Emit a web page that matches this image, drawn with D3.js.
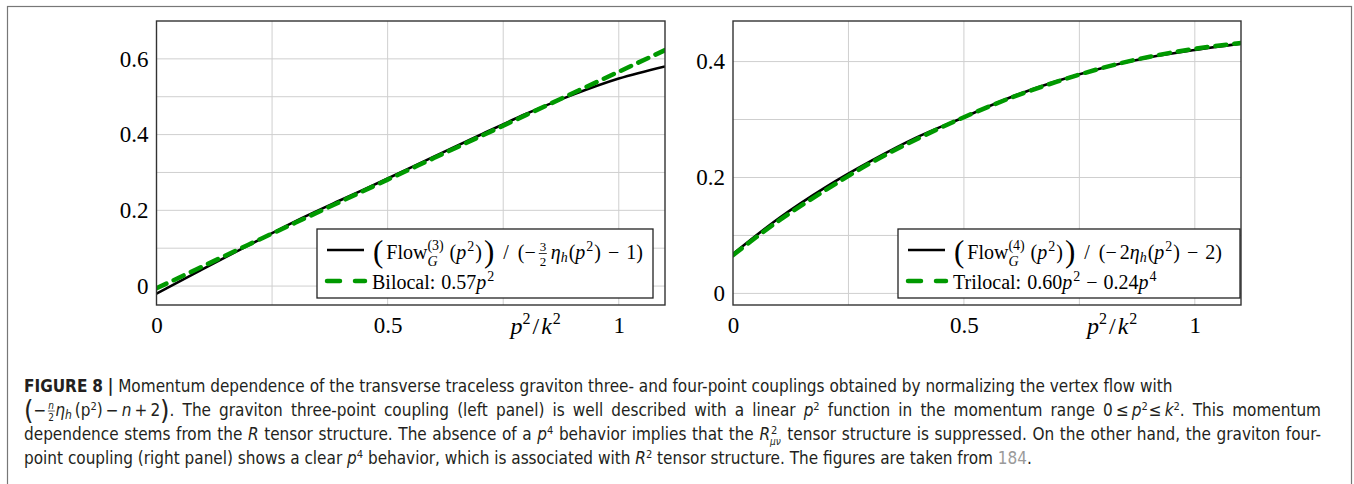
<!DOCTYPE html>
<html>
<head>
<meta charset="utf-8">
<title>Graviton couplings</title>
<script src="https://cdn.jsdelivr.net/npm/d3@7"></script>
<style>
body { margin: 0; background: #fff; }
.grid line { stroke: #cfcfcf; stroke-width: 1; }
.tick text { font-family: "Liberation Serif", "DejaVu Serif", serif; }
.cap { font-family: "Liberation Sans Narrow", "DejaVu Sans Condensed", "Liberation Sans", sans-serif; font-size: 17px; fill: #231f20; }
</style>
</head>
<body>
<svg width="1354" height="484"></svg>
<script>
// values, x = p^2/k^2
var xVals = [0, 0.1, 0.2, 0.3, 0.4, 0.5, 0.6, 0.7, 0.8, 0.9, 1.0, 1.1];
var leftFlow     = [-0.02, 0.045, 0.108, 0.171, 0.228, 0.284, 0.342, 0.399, 0.455, 0.505, 0.548, 0.580];
var leftBilocal  = [-0.006, 0.052, 0.110, 0.167, 0.224, 0.281, 0.338, 0.395, 0.452, 0.509, 0.566, 0.623];
var rightFlow     = [0.068, 0.130, 0.183, 0.229, 0.270, 0.304, 0.338, 0.366, 0.389, 0.407, 0.420, 0.431];
var rightTrilocal = [0.066, 0.126, 0.178, 0.226, 0.267, 0.304, 0.337, 0.365, 0.389, 0.408, 0.422, 0.432];
var xTicks = [0, 0.5, 1];
var xGrid = [0.25, 0.5, 0.75, 1];
var leftYTicks = [0, 0.2, 0.4, 0.6];
var leftYGrid = [0, 0.1, 0.2, 0.3, 0.4, 0.5, 0.6];
var rightYTicks = [0, 0.2, 0.4];
var rightYGrid = [0, 0.1, 0.2, 0.3, 0.4];

var svg = d3.select("svg");
var serif = '"Liberation Serif", "DejaVu Serif", serif';
var green = "#009900";

// outer frame
svg.append("rect").attr("x", 7.5).attr("y", 6.5).attr("width", 1344).attr("height", 490)
  .attr("fill", "none").attr("stroke", "#777").attr("stroke-width", 1.2);

// write a run of text pieces one after another
function mathRun(g, x, y, parts) {
  var cx = x;
  parts.forEach(function(p) {
    var t = g.append("text").attr("x", cx).attr("y", y + (p.dy || 0))
      .attr("font-family", serif).attr("font-size", p.s || 20)
      .attr("font-style", p.i ? "italic" : "normal")
      .attr("font-weight", p.w || null)
      .attr("fill", p.c || "#000").text(p.t);
    var w = t.node().getComputedTextLength();
    if (!p.stay) cx += w + (p.gap || 0);
  });
  return cx;
}

function drawPanel(o) {
  var x = d3.scaleLinear().domain([0, 1.1]).range([o.left, o.right]);
  var y = d3.scaleLinear().domain(o.yDomain).range([305, 21]);
  var g = svg.append("g");

  g.append("g").attr("class", "grid").selectAll("line").data(xGrid).join("line")
    .attr("x1", d => x(d)).attr("x2", d => x(d)).attr("y1", 21).attr("y2", 305);
  g.append("g").attr("class", "grid").selectAll("line").data(o.yGrid).join("line")
    .attr("x1", o.left).attr("x2", o.right).attr("y1", d => y(d)).attr("y2", d => y(d));

  var xAxis = g.append("g").attr("transform", "translate(0,305)")
    .call(d3.axisBottom(x).tickValues(xTicks).tickFormat(d3.format("")).tickSize(0).tickPadding(8));
  xAxis.select(".domain").remove();
  xAxis.selectAll("text").attr("font-size", 23).attr("fill", "#000").attr("dy", "0.85em");

  var yAxis = g.append("g").attr("transform", "translate(" + o.left + ",0)")
    .call(d3.axisLeft(y).tickValues(o.yTicks).tickFormat(d3.format("")).tickSize(0).tickPadding(8));
  yAxis.select(".domain").remove();
  yAxis.selectAll("text").attr("font-size", 23).attr("fill", "#000");

  var line = d3.line().x((d, i) => x(xVals[i])).y(d => y(d)).curve(d3.curveMonotoneX);
  var clip = "clip" + o.left;
  g.append("clipPath").attr("id", clip).append("rect")
    .attr("x", o.left).attr("y", 21).attr("width", o.right - o.left).attr("height", 284);
  g.append("path").datum(o.flow).attr("clip-path", "url(#" + clip + ")")
    .attr("d", line).attr("fill", "none").attr("stroke", "#000").attr("stroke-width", 2.6);
  g.append("path").datum(o.fit).attr("clip-path", "url(#" + clip + ")")
    .attr("d", line).attr("fill", "none").attr("stroke", green).attr("stroke-width", 4.5)
    .attr("stroke-dasharray", "11,8").attr("stroke-linecap", "round");

  g.append("rect").attr("x", o.left).attr("y", 21).attr("width", o.right - o.left).attr("height", 284)
    .attr("fill", "none").attr("stroke", "#333").attr("stroke-width", 1.4);

  // axis label p^2/k^2
  mathRun(g, o.left + 354, 334, [
    {t: "p", i: true, s: 24}, {t: "2", s: 16, dy: -10, gap: 2}, {t: "/", s: 24, gap: 2},
    {t: "k", i: true, s: 24, gap: 1}, {t: "2", s: 16, dy: -10}
  ]);

  // legend
  var lg = g.append("g");
  lg.append("rect").attr("x", o.legX).attr("y", 229).attr("width", o.legW).attr("height", 69)
    .attr("fill", "#fff").attr("stroke", "#222").attr("stroke-width", 1.3);
  lg.append("line").attr("x1", o.legX + 10).attr("x2", o.legX + 47).attr("y1", 250).attr("y2", 250)
    .attr("stroke", "#000").attr("stroke-width", 2.6);
  lg.append("line").attr("x1", o.legX + 10).attr("x2", o.legX + 48).attr("y1", 281).attr("y2", 281)
    .attr("stroke", green).attr("stroke-width", 4.5).attr("stroke-dasharray", "13,15").attr("stroke-linecap", "round");
  o.legend1(lg, o.legX + 56, 259);
  o.legend2(lg, o.legX + 55, 289);
}

function flowLabel(n, tail) {
  return function(g, x, y) {
    var cx = mathRun(g, x, y + 3, [{t: "(", s: 31, w: 300, gap: 3}]);
    cx = mathRun(g, cx, y, [{t: "Flow", s: 20}]);
    mathRun(g, cx, y - 9, [{t: "(" + n + ")", s: 14}]);
    cx = mathRun(g, cx, y + 7, [{t: "G", i: true, s: 14, gap: 12}]);
    cx = mathRun(g, cx, y, [{t: "(", s: 20}, {t: "p", i: true, s: 20, gap: 1}, {t: "2", s: 14, dy: -8, gap: 1}, {t: ")", s: 20, gap: 2}]);
    cx = mathRun(g, cx, y + 3, [{t: ")", s: 31, gap: 9}]);
    cx = mathRun(g, cx, y, [{t: "/", s: 20, gap: 9}, {t: "(", s: 20}, {t: "\u2212", s: 20, gap: 3}]);
    cx = tail(g, cx, y);
    mathRun(g, cx, y, [{t: ")", s: 20}]);
  };
}

drawPanel({
  left: 156.5, right: 665, yDomain: [-0.05, 0.7], yTicks: leftYTicks, yGrid: leftYGrid,
  flow: leftFlow, fit: leftBilocal, legX: 317, legW: 336,
  legend1: flowLabel(3, function(g, cx, y) {
    mathRun(g, cx + 1, y - 8, [{t: "3", s: 13}]);
    g.append("line").attr("x1", cx).attr("x2", cx + 8).attr("y1", y - 5.5).attr("y2", y - 5.5).attr("stroke", "#000").attr("stroke-width", 0.8);
    mathRun(g, cx + 1, y + 7, [{t: "2", s: 13}]);
    cx += 12;
    return mathRun(g, cx, y, [{t: "\u03b7", i: true, s: 20}, {t: "h", i: true, s: 14, dy: 3, gap: 1}, {t: "(", s: 20},
      {t: "p", i: true, s: 20, gap: 1}, {t: "2", s: 14, dy: -8, gap: 1}, {t: ")", s: 20, gap: 7}, {t: "\u2212", s: 20, gap: 7}, {t: "1", s: 20}]);
  }),
  legend2: function(g, x, y) {
    mathRun(g, x, y, [{t: "Bilocal:", s: 20, gap: 6}, {t: "0.57", s: 20}, {t: "p", i: true, s: 20, gap: 1}, {t: "2", s: 14, dy: -8}]);
  }
});

drawPanel({
  left: 733, right: 1241, yDomain: [-0.02, 0.47], yTicks: rightYTicks, yGrid: rightYGrid,
  flow: rightFlow, fit: rightTrilocal, legX: 898, legW: 342,
  legend1: flowLabel(4, function(g, cx, y) {
    return mathRun(g, cx, y, [{t: "2", s: 20}, {t: "\u03b7", i: true, s: 20}, {t: "h", i: true, s: 14, dy: 3, gap: 1}, {t: "(", s: 20},
      {t: "p", i: true, s: 20, gap: 1}, {t: "2", s: 14, dy: -8, gap: 1}, {t: ")", s: 20, gap: 7}, {t: "\u2212", s: 20, gap: 7}, {t: "2", s: 20}]);
  }),
  legend2: function(g, x, y) {
    mathRun(g, x, y, [{t: "Trilocal:", s: 20, gap: 6}, {t: "0.60", s: 20}, {t: "p", i: true, s: 20, gap: 1}, {t: "2", s: 14, dy: -8, gap: 6},
      {t: "\u2212", s: 20, gap: 6}, {t: "0.24", s: 20}, {t: "p", i: true, s: 20, gap: 1}, {t: "4", s: 14, dy: -8}]);
  }
});

// caption: words placed one by one so lines can be justified
var cap = svg.append("g");
var spaceW = cap.append("text").attr("class", "cap").text("a\u00a0a").node().getComputedTextLength()
  - cap.append("text").attr("class", "cap").text("aa").node().getComputedTextLength();
cap.selectAll("text").remove();

function capLine(y, parts, target) {
  var items = [];
  parts.forEach(function(p) {
    if (p.raw) { items.push({p: p, t: p.t}); return; }
    p.t.split(" ").forEach(function(w, k) {
      if (k > 0) items.push({space: true});
      if (w) items.push({p: p, t: w});
    });
  });
  var natural = 0, nSpace = 0;
  items.forEach(function(it) {
    if (it.space) { natural += spaceW; nSpace++; return; }
    var p = it.p;
    var t = cap.append("text").attr("class", "cap").attr("y", y + (p.dy || 0))
      .style("font-size", (p.s || 17) + "px").style("font-weight", p.b ? "bold" : null)
      .style("font-style", p.i ? "italic" : null).style("fill", p.c || null).text(it.t);
    it.node = t;
    it.w = p.adv != null ? p.adv : t.node().getComputedTextLength();
    natural += it.w + (p.gap || 0);
  });
  var extra = (target && nSpace) ? Math.max(0, (target - 24 - natural) / nSpace) : 0;
  var cx = 24;
  items.forEach(function(it) {
    if (it.space) { cx += spaceW + extra; return; }
    it.node.attr("x", cx + (it.p.dx || 0));
    cx += it.w + (it.p.gap || 0);
  });
  return natural;
}

var n1 = capLine(392, [{t: "FIGURE 8 |", b: true}, {t: " Momentum dependence of the transverse traceless graviton three- and four-point couplings obtained by normalizing the vertex flow with"}]);
var sx = Math.min(1, 1150 / n1);
var just = 24 + (1321 - 24) / sx;

capLine(416, [
  {t: "(", s: 27, dy: 3, raw: true},
  {t: "\u2212", raw: true, gap: 1},
  {t: "n", s: 10, i: true, dy: -7, raw: true, adv: 0, dx: 1},
  {t: "2", s: 10, dy: 5, raw: true, adv: 8, dx: 1},
  {t: "\u03b7", i: true, raw: true},
  {t: "h", i: true, s: 12, dy: 3, raw: true, gap: 3},
  {t: "(p", raw: true}, {t: "2", s: 11, dy: -6, raw: true},
  {t: ")\u2009\u2212\u2009", raw: true}, {t: "n", i: true, raw: true}, {t: "\u2009+\u20092", raw: true},
  {t: ")", s: 27, dy: 3, raw: true},
  {t: ". The graviton three-point coupling (left panel) is well described with a linear "},
  {t: "p", i: true}, {t: "2", s: 11, dy: -6, raw: true},
  {t: " function in the momentum range 0\u2009\u2264\u2009"}, {t: "p", i: true}, {t: "2", s: 11, dy: -6, raw: true, gap: 1},
  {t: "\u2264\u2009", raw: true}, {t: "k", i: true}, {t: "2", s: 11, dy: -6, raw: true},
  {t: ". This momentum"}
], just);
// fraction bar
var fracLine = cap.append("line").attr("y1", 411).attr("y2", 411).attr("stroke", "#231f20").attr("stroke-width", 0.7);

capLine(440, [
  {t: "dependence stems from the "}, {t: "R", i: true},
  {t: " tensor structure. The absence of a "}, {t: "p", i: true}, {t: "4", s: 11, dy: -6, raw: true},
  {t: " behavior implies that the "}, {t: "R", i: true},
  {t: "2", s: 11, dy: -6, raw: true, adv: 0, dx: 1},
  {t: "\u03bc\u03bd", s: 10, i: true, dy: 5, raw: true, gap: 1},
  {t: " tensor structure is suppressed. On the other hand, the graviton four-"}
], just);

capLine(464, [
  {t: "point coupling (right panel) shows a clear "}, {t: "p", i: true}, {t: "4", s: 11, dy: -6, raw: true},
  {t: " behavior, which is associated with "}, {t: "R", i: true}, {t: "2", s: 11, dy: -6, raw: true},
  {t: " tensor structure. The figures are taken from "}, {t: "184", c: "#9a9a9a"}, {t: ".", raw: true}
]);

// place the fraction bar under the small n
var nNode = cap.selectAll("text").filter(function() { return this.textContent === "n" && +this.getAttribute("y") === 409; }).node();
if (nNode) { var nx = +nNode.getAttribute("x"); fracLine.attr("x1", nx - 0.5).attr("x2", nx + 6.5); }

cap.attr("transform", "translate(24,0) scale(" + sx + ",1) translate(-24,0)");
</script>
</body>
</html>
